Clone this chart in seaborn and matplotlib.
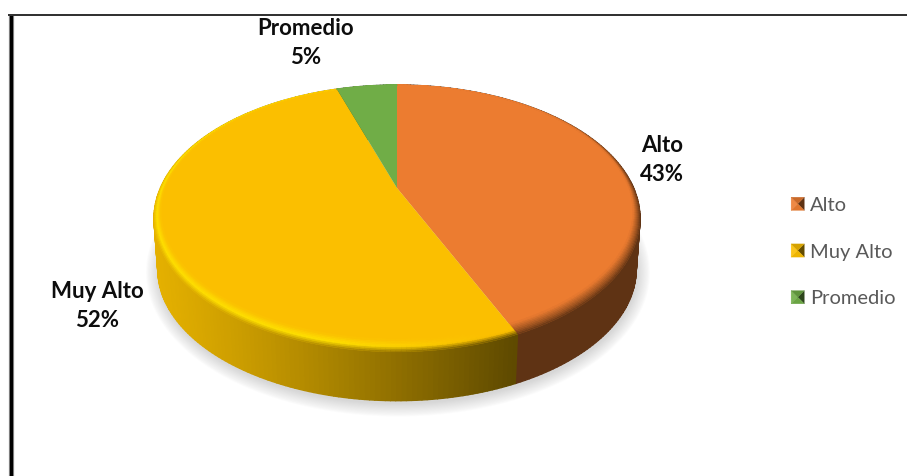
import numpy as np
import matplotlib
matplotlib.use("Agg")
import matplotlib.pyplot as plt
from matplotlib.collections import PolyCollection
from matplotlib.legend_handler import HandlerBase
from matplotlib.patches import Patch, Polygon
from matplotlib.colors import to_rgb
import seaborn as sns

categories = ["Alto", "Muy Alto", "Promedio"]
shares = [43.4, 51.6, 5.0]
face_colors = ["#EC7C30", "#FBBF00", "#70AD47"]

sns.set_theme(style="white")
plt.rcParams["font.family"] = ["Lato", "DejaVu Sans"]
palette = sns.color_palette(face_colors)

fig, ax = plt.subplots(figsize=(9.07, 4.76), dpi=100)
fig.patch.set_facecolor("white")
ax.set_position([0, 0, 1, 1])
ax.set_xlim(0, 907)
ax.set_ylim(476, 0)
ax.axis("off")

CX, CY, A, B, K, DEPTH, BOTTOM_R = 397, 188, 236.6, 126.5, 0.228, 52, 0.985


def project(theta, r=1.0, dy=0.0):
    u, v = r * np.sin(theta), r * np.cos(theta)
    w = 1 + K * v
    return CX + A * u / w, CY - B * v / w + dy


def mix(c1, c2, t):
    c1, c2 = np.array(to_rgb(c1)), np.array(to_rgb(c2))
    return tuple(np.clip(c1 + (c2 - c1) * t, 0, 1))


# soft shadow under the disc
full = np.linspace(0, 2 * np.pi, 361)
for grow in np.linspace(13, 0, 13):
    x, y = project(full, BOTTOM_R, DEPTH)
    ex = CX + (x - CX) * (1 + grow / 243) + 1
    ey = 218 + DEPTH + (y - 218 - DEPTH) * (1 + grow / 133) + 3
    ax.fill(ex, ey, color="#9a9a9a", alpha=0.03, lw=0, zorder=1)

edges = np.cumsum([0] + shares) / sum(shares) * 2 * np.pi


def side_color(i, theta):
    x, _ = project(theta)
    t = np.clip((x - 154) / (513 - 154), 0, 1)
    if i == 0:
        return to_rgb("#5F3314")
    if i == 1:
        return mix("#E4B000", "#5F4A00", t ** 1.15)
    return mix("#4E7A30", "#35531F", 0.5)


sides, side_cols, rims, rim_cols = [], [], [], []
for i in range(len(shares)):
    thetas = np.arange(edges[i], edges[i + 1] + 1e-9, np.radians(1.0))
    thetas = np.append(thetas, edges[i + 1])
    for a, b in zip(thetas[:-1], thetas[1:]):
        xa, ya = project(a)
        xb, yb = project(b)
        xc, yc = project(b, BOTTOM_R, DEPTH)
        xd, yd = project(a, BOTTOM_R, DEPTH)
        mid = (a + b) / 2
        sides.append([(xa, ya), (xb, yb), (xc, yc), (xd, yd)])
        sc = side_color(i, mid)
        side_cols.append(sc)
        front = max(0.0, -np.cos(mid))
        lift = 0.5 * (1 - np.cos(mid))
        width = 0.002 + 0.036 * lift + 0.024 * front
        layers = 8
        xm, _ = project(mid)
        for k in range(layers):
            r0 = 1 - width * k / layers
            r1 = 1 - width * (k + 1) / layers
            t = (k + 0.5) / layers
            x0, y0 = project(a, r0)
            x1, y1 = project(b, r0)
            x2, y2 = project(b, r1)
            x3, y3 = project(a, r1)
            rims.append([(x0, y0), (x1, y1), (x2, y2), (x3, y3)])
            if i == 1:
                bright = 1 - np.clip((xm - 330) / 160, 0, 1)
                peak = mix(face_colors[1], "#FFE000", bright)
                outer = mix(peak, sc, min(1.0, lift * 1.4))
                if t < 0.45:
                    rim_cols.append(mix(outer, peak, t / 0.45))
                else:
                    rim_cols.append(mix(peak, face_colors[1], (t - 0.45) / 0.55))
            elif i == 0:
                outer = mix(face_colors[0], "#5F3314", min(1.0, lift * 2.2))
                rim_cols.append(mix(outer, face_colors[0], t ** 0.8))
            else:
                rim_cols.append(to_rgb(face_colors[2]))

ax.add_collection(PolyCollection(sides, facecolors=side_cols, edgecolors=side_cols, linewidths=1.0, zorder=2))

for i, color in enumerate(palette):
    thetas = np.linspace(edges[i], edges[i + 1], 200)
    x, y = project(thetas)
    ax.fill(np.r_[CX, x], np.r_[CY, y], color=color, lw=0, zorder=3)

ax.add_collection(PolyCollection(rims, facecolors=rim_cols, edgecolors=rim_cols, linewidths=0.4, zorder=4))

# data labels
label_pos = [(662, 160), (97, 306), (306, 43)]
for cat, val, (lx, ly) in zip(categories, shares, label_pos):
    ax.text(lx, ly, f"{cat}\n{round(val)}%", ha="center", va="center", fontsize=16,
            fontweight="bold", color="#0d0d0d", linespacing=1.5, zorder=6)


class BevelHandler(HandlerBase):
    def create_artists(self, legend, orig, xd, yd, w, h, fontsize, trans):
        base = orig.get_facecolor()
        s = 9.5
        x0, y0 = -xd + (w - s), -yd + (h - s) / 2
        c = (x0 + s / 2, y0 + s / 2)
        tl, tr = (x0, y0 + s), (x0 + s, y0 + s)
        bl, br = (x0, y0), (x0 + s, y0)
        tris = [
            ([tl, bl, c], mix(base[:3], "#ffffff", 0.1)),
            ([tr, br, c], mix(base[:3], "#000000", 0.6)),
            ([tl, tr, c], mix(base[:3], "#000000", 0.15)),
            ([bl, br, c], mix(base[:3], "#000000", 0.05)),
        ]
        return [Polygon(p, closed=True, facecolor=col, edgecolor=col, lw=0.2, transform=trans) for p, col in tris]


handles = [Patch(facecolor=c, label=n) for c, n in zip(palette, categories)]
ax.legend(handles=handles, handler_map={Patch: BevelHandler()}, loc="center left",
          bbox_to_anchor=(791, 252), bbox_transform=ax.transData, frameon=False,
          fontsize=14.5, labelcolor="#595959", labelspacing=1.47, handlelength=0.66,
          handleheight=0.7, handletextpad=0.3, borderpad=0, borderaxespad=0)

# outer frame
ax.plot([10.5, 10.5], [14, 476], color="#8c8c8c", lw=5.2 * 0.72, solid_capstyle="butt", zorder=5)
ax.plot([10.5, 10.5], [14, 476], color="#000000", lw=3.2 * 0.72, solid_capstyle="butt", zorder=5)
ax.plot([8, 907], [14.5, 14.5], color="#333333", lw=2 * 0.72, solid_capstyle="butt", zorder=5)

fig.savefig("out.png", dpi=100)
